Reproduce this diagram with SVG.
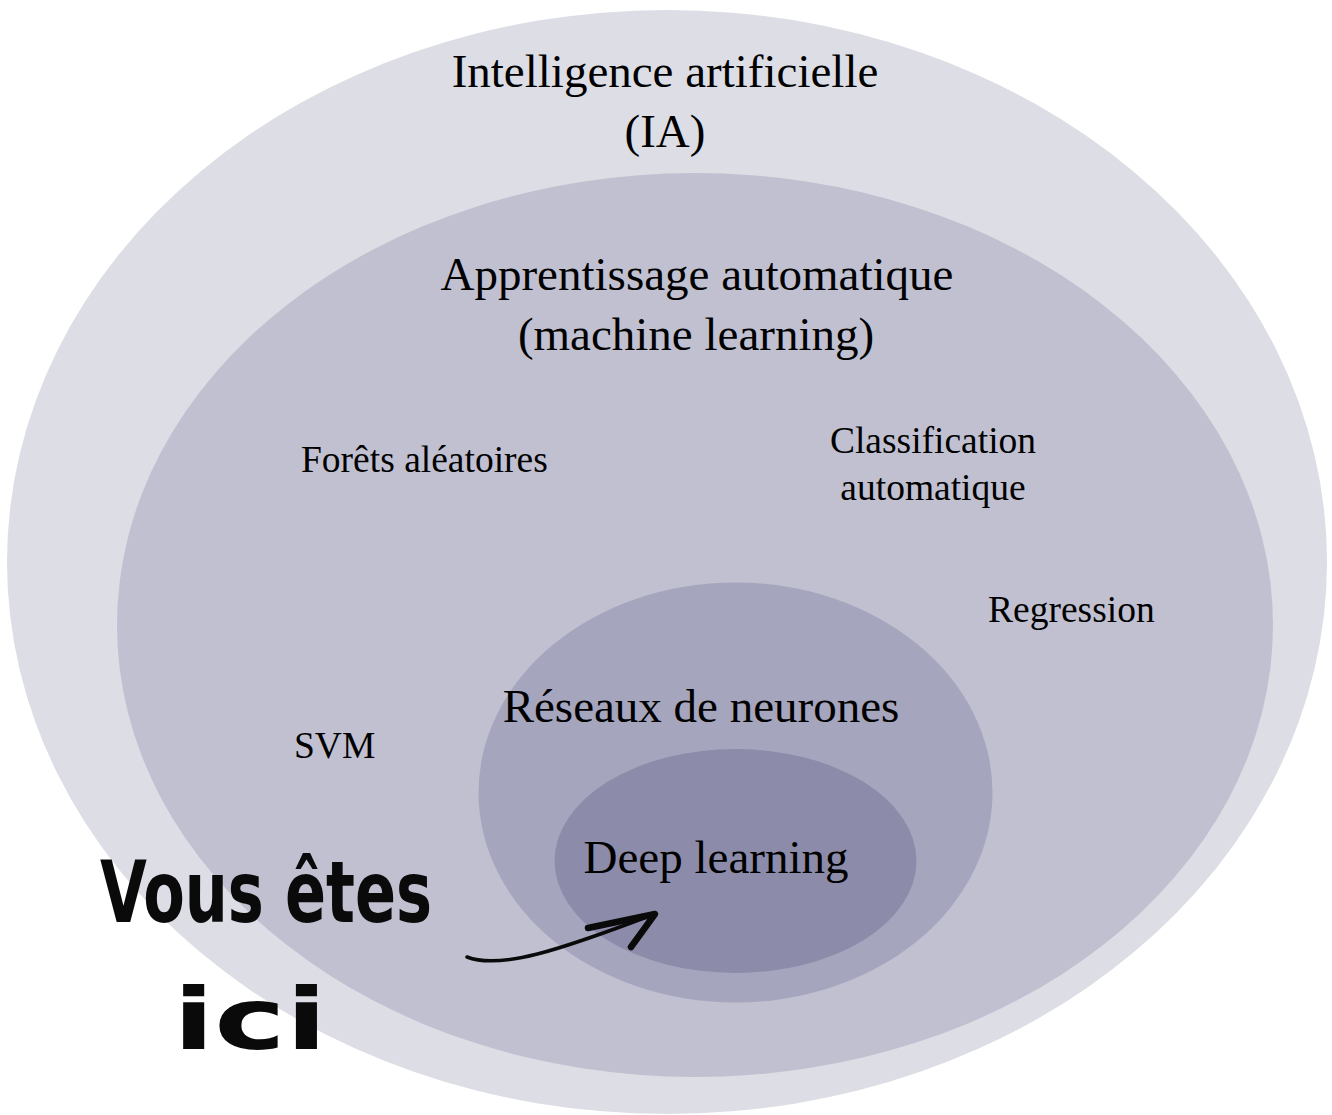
<svg xmlns="http://www.w3.org/2000/svg" width="1332" height="1115" viewBox="0 0 1332 1115">
  <style>
    .title { font-family: "Liberation Serif", "Times New Roman", serif; font-size: 47px; fill: #000; text-anchor: middle; }
    .label { font-family: "Liberation Serif", "Times New Roman", serif; font-size: 37.5px; fill: #000; }
    .hand { font-family: "DejaVu Sans Condensed", "DejaVu Sans", sans-serif; font-weight: bold; font-size: 86px; fill: #0a0a0a; }
    .ink { fill: none; stroke: #0a0a0a; stroke-linecap: round; stroke-linejoin: round; }
  </style>
  <rect x="0" y="0" width="1332" height="1115" fill="#ffffff"/>

  <g id="ia">
    <ellipse cx="667" cy="562" rx="660" ry="552" fill="#dcdde5"/>
    <text class="title" x="665" y="87">Intelligence artificielle</text>
    <text class="title" x="665" y="147">(IA)</text>
  </g>

  <g id="ml">
    <ellipse cx="695" cy="625" rx="578" ry="452" fill="#c1c0d1"/>
    <text class="title" x="697" y="290">Apprentissage automatique</text>
    <text class="title" x="696" y="350">(machine learning)</text>
  </g>

  <g id="forets">
    <text class="label" x="301" y="472">Forêts aléatoires</text>
  </g>
  <g id="classification">
    <text class="label" x="933" y="453" text-anchor="middle">Classification</text>
    <text class="label" x="933" y="500" text-anchor="middle">automatique</text>
  </g>
  <g id="regression">
    <text class="label" x="988" y="622">Regression</text>
  </g>
  <g id="svm">
    <text class="label" x="294" y="758">SVM</text>
  </g>

  <g id="reseaux">
    <ellipse cx="735.5" cy="792.5" rx="257" ry="210" fill="#a5a5bd"/>
    <text class="title" x="701" y="722">Réseaux de neurones</text>
  </g>

  <g id="deep">
    <ellipse cx="735.5" cy="861" rx="181" ry="112" fill="#8c8caa"/>
    <text class="title" x="716" y="873">Deep learning</text>
  </g>

  <g id="vous-etes-ici">
    <text class="hand" x="100" y="922" textLength="332" lengthAdjust="spacingAndGlyphs">Vous êtes</text>
    <text class="hand" x="173" y="1049" textLength="154" lengthAdjust="spacingAndGlyphs">ici</text>
  </g>

  <g id="connectors">
    <path class="ink" d="M467,957 C500,970 560,950 652,915" stroke-width="3.5"/>
    <path class="ink" d="M588,928 L655,914 L631,947" stroke-width="6.5"/>
  </g>
</svg>
